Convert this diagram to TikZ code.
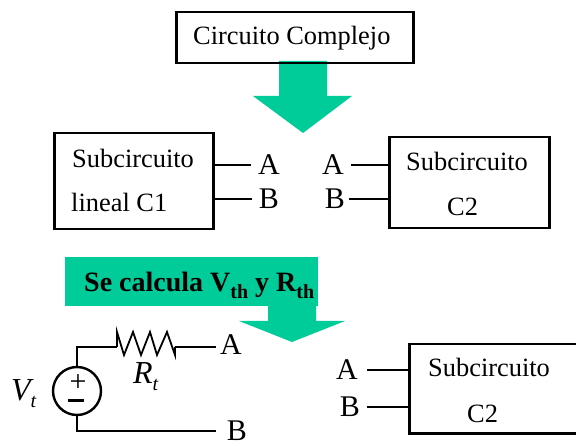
\documentclass[tikz,border=0pt]{standalone}
\usepackage{fontspec}
\setmainfont{Liberation Serif}
\definecolor{flecha}{RGB}{0, 204, 153}
\newcommand{\subind}[1]{\raisebox{-0.22em}{\fontsize{20}{20}\selectfont #1}}
\tikzset{
  caja/.style={draw, line width=2.5pt, inner sep=0pt, anchor=north west},
  texto/.style={font=\fontsize{26.4}{30}\selectfont, inner sep=0pt, anchor=base west},
  term/.style={font=\fontsize{30}{34}\selectfont, inner ysep=0pt, inner xsep=7pt},
  wire/.style={line width=2.4pt}
}
\begin{document}
\begin{tikzpicture}[x=1pt, y=-1pt]
  \useasboundingbox (0,0) rectangle (576,446);
  % flechas verdes
  \fill[flecha] (279,61) -- (327,61) -- (327,96) -- (352,96) -- (303,133) -- (253,96) -- (279,96) -- cycle;
  \fill[flecha] (268,300) -- (316,300) -- (316,321) -- (345,321) -- (292,342) -- (239,321) -- (268,321) -- cycle;
  \node[fill=flecha, inner sep=0pt, minimum width=253pt, minimum height=49pt, anchor=north west] (banda) at (65,257) {};
  \node[anchor=base west, inner sep=0pt, font=\fontsize{28}{32}\selectfont\bfseries] (calcula) at (84,292)
        {Se calcula V\subind{th} y R\subind{th}};
  % cajas
  \node[caja, minimum width=237pt, minimum height=51pt] (complejo) at (175,11) {};
  \node[texto] (circuito) at (193,45) {Circuito Complejo};
  \node[caja, minimum width=159pt, minimum height=96pt] (cajaC1) at (53,132) {};
  \node[caja, minimum width=160pt, minimum height=91pt] (cajaC2) at (388,136) {};
  \node[caja, minimum width=172pt, minimum height=89pt] (cajaC2b) at (408,343) {};
  \node[texto] (sub1) at (72,168) {Subcircuito};
  \node[texto] (lineal) at (71,212) {lineal C1};
  \node[texto] (sub2) at (406,171) {Subcircuito};
  \node[texto] (c2) at (447,216) {C2};
  \node[texto] (sub3) at (428,377) {Subcircuito};
  \node[texto] (c2b) at (467,422) {C2};
  % terminales
  \node[term] (a1) at (269,165) {A};
  \node[term] (b1) at (269,199) {B};
  \node[term] (a2) at (333,165) {A};
  \node[term, inner xsep=4pt] (b2) at (335,199) {B};
  \node[term, inner xsep=9pt] (a3) at (347,370) {A};
  \node[term] (b3) at (350,407) {B};
  \draw[wire] (cajaC1.east |- a1) -- (a1.west);
  \draw[wire] (cajaC1.east |- b1) -- (b1.west);
  \draw[wire] (cajaC2.west |- a2) -- (a2.east);
  \draw[wire] (cajaC2.west |- b2) -- (b2.east);
  \draw[wire] (cajaC2b.west |- a3) -- (a3.east);
  \draw[wire] (cajaC2b.west |- b3) -- (b3.east);
  % fuente y resistencia
  \node[draw, circle, line width=2.4pt, minimum size=48pt, inner sep=0pt] (fuente) at (77,391) {};
  \node[inner sep=0pt, font=\fontsize{30}{30}\selectfont] (mas) at (78,383) {+};
  \draw[line width=3pt] (68,401) -- (84,401);
  \node[term, inner xsep=4pt] (a4) at (231,345) {A};
  \node[term, inner xsep=11pt] (b4) at (237,431) {B};
  \coordinate (rin) at (117,347);
  \coordinate (rout) at (175,347);
  \draw[wire] (fuente.north) |- (rin);
  \draw[line width=1.8pt] (rin) -- ++(0,-15) -- ++(7,23) -- ++(9,-23) -- ++(8,23) -- ++(9,-23) -- ++(7,23) -- ++(10,-23) -- ++(8,23) -- (rout);
  \draw[wire] (rout) -- (a4.west |- rout);
  \draw[wire] (fuente.south) |- (b4.west |- 0,431);
  \node[font=\fontsize{32}{36}\selectfont\itshape, inner sep=0pt, anchor=base west] (vt) at (11,401) {V\raisebox{-0.2em}{\fontsize{20}{20}\selectfont t}};
  \node[font=\fontsize{32}{36}\selectfont\itshape, inner sep=0pt, anchor=base west] (rt) at (133,384) {R\raisebox{-0.2em}{\fontsize{20}{20}\selectfont t}};
\end{tikzpicture}
\end{document}
